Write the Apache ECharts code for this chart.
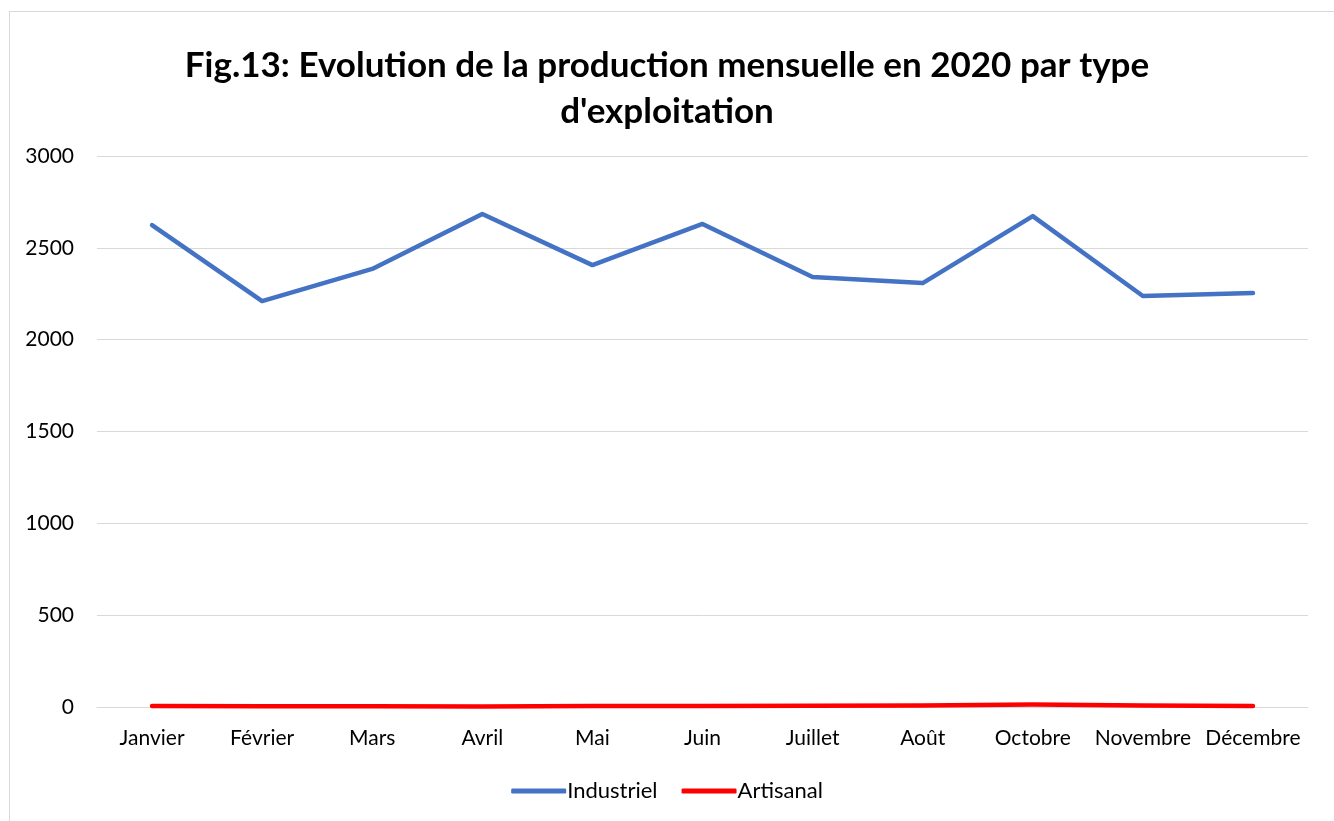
<!DOCTYPE html>
<html>
<head>
<meta charset="utf-8">
<script src="https://cdn.jsdelivr.net/npm/echarts@6/dist/echarts.min.js"></script>
<style>
  html, body { margin: 0; padding: 0; background: #fff; }
  #frame { position: absolute; left: 9px; top: 11px; width: 1340px; height: 830px; border: 1px solid #d9d9d9; box-sizing: border-box; }
  #chart { position: absolute; left: 0; top: 0; width: 1334px; height: 821px; }
</style>
</head>
<body>
<div id="frame"></div>
<div id="chart"></div>
<script>
// mois (pas de Septembre dans la source)
const months = ['Janvier', 'Février', 'Mars', 'Avril', 'Mai', 'Juin', 'Juillet', 'Août', 'Octobre', 'Novembre', 'Décembre'];
const industriel = [2624, 2210, 2385, 2684, 2406, 2630, 2341, 2308, 2673, 2238, 2254];
const artisanal = [5, 4, 4, 3, 5, 6, 7, 8, 13, 8, 5];
const yTicks = [0, 500, 1000, 1500, 2000, 2500, 3000];

const font = 'Lato, "Open Sans", sans-serif';
const chart = echarts.init(document.getElementById('chart'));

chart.setOption({
  animation: false,
  title: {
    text: 'Fig.13: Evolution de la production mensuelle en 2020 par type\nd\'exploitation',
    left: 'center',
    top: 38,
    textStyle: { fontFamily: font, fontWeight: 'bold', fontSize: 35, lineHeight: 46, color: '#000' }
  },
  legend: {
    bottom: 14,
    left: 'center',
    itemWidth: 55,
    itemHeight: 5,
    itemGap: 24,
    icon: 'roundRect',
    textStyle: { fontFamily: font, fontSize: 22, color: '#000', padding: [0, 0, 0, -4] },
    data: ['Industriel', 'Artisanal']
  },
  grid: { left: 97, right: 26, top: 156, bottom: 114 },
  xAxis: {
    type: 'category',
    data: months,
    boundaryGap: true,
    axisLine: { lineStyle: { color: '#d9d9d9', width: 1 } },
    axisTick: { show: false },
    axisLabel: { fontFamily: font, fontSize: 21, color: '#000', margin: 21, interval: 0 }
  },
  yAxis: {
    type: 'value',
    min: yTicks[0],
    max: yTicks[yTicks.length - 1],
    interval: 500,
    axisLine: { show: false },
    axisTick: { show: false },
    splitLine: { lineStyle: { color: '#d9d9d9', width: 1 } },
    axisLabel: { fontFamily: font, fontSize: 21, color: '#000', margin: 23, formatter: v => String(v) }
  },
  series: [
    {
      name: 'Industriel',
      type: 'line',
      data: industriel,
      symbol: 'none',
      color: '#4472c4',
      lineStyle: { width: 4.5, cap: 'round', join: 'round' }
    },
    {
      name: 'Artisanal',
      type: 'line',
      data: artisanal,
      symbol: 'none',
      color: '#ff0000',
      lineStyle: { width: 4.5, cap: 'round', join: 'round' }
    }
  ]
});
</script>
</body>
</html>
